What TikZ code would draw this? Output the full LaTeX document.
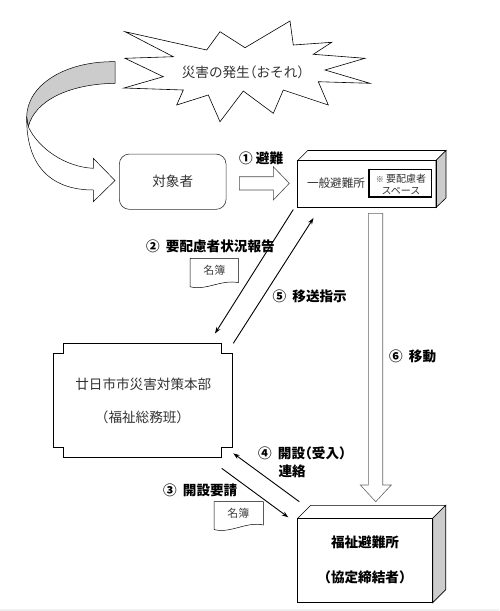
\documentclass[tikz,border=0pt]{standalone}
\usepackage{fontspec}
\newfontfamily\jp[RawFeature=+halt]{Noto Sans CJK JP}
\usetikzlibrary{arrows.meta}
\begin{document}
\begin{tikzpicture}[x=1pt,y=-1pt,
  regtext/.style={font=\jp\fontsize{13.6}{16}\selectfont, text=black!80, inner sep=0pt},
  boldtxt/.style={font=\jp\bfseries\fontsize{13.6}{16}\selectfont, text=black, inner sep=0pt},
  boldlbl/.style={boldtxt, anchor=west},
  smalltxt/.style={font=\jp\fontsize{10}{12.5}\selectfont, text=black!80, inner sep=0pt, align=center},
  doctxt/.style={font=\jp\fontsize{11}{13}\selectfont, text=black!75, inner sep=0pt},
  arr/.style={line width=0.9pt, -{Stealth[length=6.5pt,width=4.5pt]}},
  blockarrow/.style={line width=0.6pt, draw=black!70, fill=white},
  thinline/.style={line width=0.6pt, draw=black},
  shaded/.style={line width=0.6pt, draw=black, fill=gray!40}]
\useasboundingbox (0,0) rectangle (499,611);
\fill[white] (0,0) rectangle (499,611);
\fill[gray!12] (0,608.5) rectangle (499,611);

% burst
\draw[line width=0.6pt, fill=white] (125,31.7) -- (206.7,50) -- (220,31.7) -- (245,47.7) -- (290,21) -- (293.3,45) -- (331.7,42.3) -- (313.3,54.3) -- (365,58.3) -- (325,70) -- (370,83.3) -- (318.3,81.7) -- (328.3,105) -- (283.3,90) -- (273.3,113.3) -- (243.3,91) -- (220,121.7) -- (208.3,95) -- (176.7,105) -- (183.3,90) -- (124,88) -- (163.3,76.7) -- (125,58.3) -- (173.3,56.7) -- cycle;
\node[regtext] (hassei) at (243,72) {災害の発生（おそれ）};

% curved arrow
\draw[line width=0.5pt, fill=gray!40] (115,61.7) .. controls (65,61) and (27,85) .. (26.7,117) -- (28.3,126.7) .. controls (35,100) and (70,84) .. (115,83.3) -- cycle;
\draw[line width=0.5pt, fill=white] (26.7,117) .. controls (26,170) and (55,190) .. (93.3,190) -- (93.3,201.7) -- (115,180.5) -- (93.3,158.3) -- (93.3,168.3) .. controls (65,167) and (38,148) .. (28.3,126.7) -- cycle;

% target persons
\node[regtext, draw=black!80, line width=0.6pt, rounded corners=10pt, minimum width=106.7pt, minimum height=55.3pt] (taisho) at (172.7,181.7) {対象者};

% block arrow 1
\draw[blockarrow] (239.3,176.7) -- (273.3,176.7) -- (273.3,166.7) -- (289.3,183.3) -- (273.3,200) -- (273.3,190) -- (239.3,190) -- cycle;
\node[boldlbl] (l1) at (239,158.3) {① 避難};

% general shelter box
\draw[thinline, fill=white] (297.7,160.5) -- (307.7,150.5) -- (446,150.5) -- (436,160.5) -- cycle;
\draw[shaded] (436,160.5) -- (446,150.5) -- (446,198) -- (436,207.5) -- cycle;
\node[draw, line width=0.6pt, minimum width=138.3pt, minimum height=47pt, inner sep=0pt] (ippan) at (366.85,184) {};
\node[regtext, font=\jp\fontsize{11.6}{14}\selectfont] (ippantxt) at (336,183) {一般避難所};
\node[draw, line width=1.5pt, minimum width=62.7pt, minimum height=27.3pt, inner sep=0pt] (yoh) at (400.3,183.3) {};
\node[smalltxt] (yohtxt) at (401,184.3) {{\fontsize{8}{10}\selectfont ※} 要配慮者\\スペース};

% arrows 2 and 5
\coordinate (a2s) at (293.3,209.5);
\coordinate (a2e) at (215,333.5);
\draw[arr] (a2s) -- (a2e);
\coordinate (a5s) at (233.3,343.3);
\coordinate (a5e) at (313.5,218);
\draw[arr] (a5s) -- (a5e);
\node[boldlbl] (l2) at (146,246.7) {② \kern3pt 要配慮者状況報告};
\node[boldlbl] (l5) at (272.5,296) {⑤ \kern3pt 移送指示};

% document 1
\draw[line width=0.5pt, fill=white] (190,258.3) -- (238.3,258.3) -- (238.3,282.7) .. controls (222,279) and (206,291) .. (190,286.7) -- cycle;
\node[doctxt] (meibo1) at (214.3,270) {名簿};

% block arrow 6
\draw[blockarrow, draw=black!60] (368.3,213.3) -- (382.7,213.3) -- (382.7,485) -- (391.3,485) -- (375.7,501.7) -- (360.3,485) -- (368.3,485) -- cycle;
\node[boldlbl] (l6) at (389,356) {⑥ \kern3pt 移動};

% headquarters
\draw[line width=1.1pt, fill=white] (63.3,343.3) -- (221.7,343.3) -- (221.7,353.3) -- (232.3,353.3) -- (232.3,447.3) -- (221.7,447.3) -- (221.7,457.7) -- (63.3,457.7) -- (63.3,447.3) -- (53.3,447.3) -- (53.3,353.3) -- (63.3,353.3) -- cycle;
\node[minimum width=179pt, minimum height=114.4pt, inner sep=0pt] (hq) at (142.8,400.5) {};
\node[regtext] (hq1) at (143.3,384.3) {廿日市市災害対策本部};
\node[regtext] (hq2) at (142.5,417.3) {（福祉総務班）};

% arrows 3 and 4
\coordinate (a3s) at (221.7,468.3);
\coordinate (a3e) at (288.3,517.3);
\draw[arr] (a3s) -- (a3e);
\coordinate (a4s) at (299.3,501.7);
\coordinate (a4e) at (233.3,453.3);
\draw[arr] (a4s) -- (a4e);
\node[boldlbl] (l4) at (258,453.3) {④ \kern3pt 開設（受入）};
\node[boldlbl] (l4b) at (278.3,471.7) {連絡};
\node[boldlbl] (l3) at (163,490) {③ \kern3pt 開設要請};

% document 2
\draw[line width=0.5pt, fill=white] (214,501.7) -- (263.3,501.7) -- (263.3,525) .. controls (247,521) and (230,534) .. (214,529.5) -- cycle;
\node[doctxt] (meibo2) at (238.3,513.3) {名簿};

% welfare shelter box
\draw[thinline, fill=white] (297.7,518.3) -- (310.7,505.3) -- (445.7,505.3) -- (432.7,518.3) -- cycle;
\draw[shaded] (432.7,518.3) -- (445.7,505.3) -- (445.7,589.7) -- (432.7,602.7) -- cycle;
\node[draw, line width=0.6pt, minimum width=135pt, minimum height=84.4pt, inner sep=0pt] (fukushi) at (365.2,560.5) {};
\node[boldtxt] (fk1) at (365,542.7) {福祉避難所};
\node[boldtxt] (fk2) at (365,577.3) {（協定締結者）};
\end{tikzpicture}
\end{document}
